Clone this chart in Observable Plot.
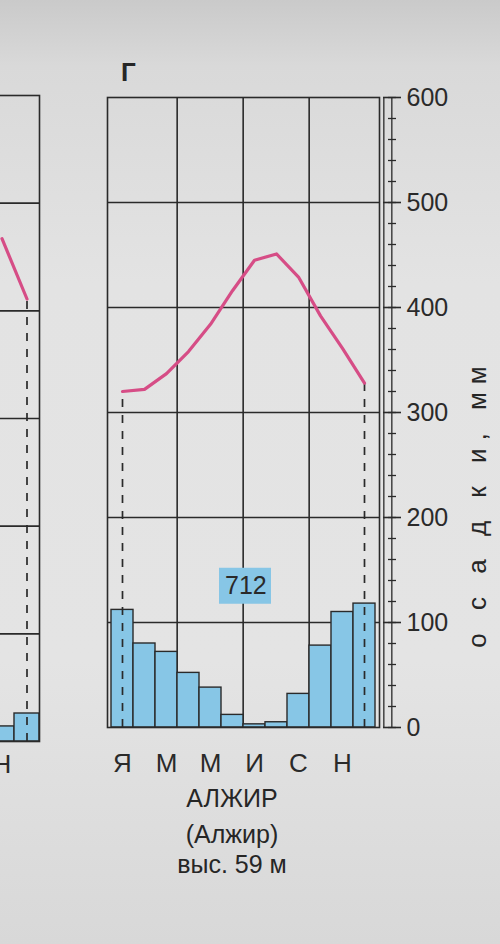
<!DOCTYPE html>
<html>
<head>
<meta charset="utf-8">
<script src="https://cdn.jsdelivr.net/npm/d3@7"></script>
<script src="https://cdn.jsdelivr.net/npm/@observablehq/plot@0.6"></script>
<style>
  body { margin: 0; }
  #wrap {
    position: relative; width: 500px; height: 944px; overflow: hidden;
    background: linear-gradient(180deg, #cacaca 0%, #d9d9d9 7%, #e3e3e3 30%, #e4e4e4 70%, #d8d8d8 100%);
    font-family: "Liberation Sans", Arial, sans-serif;
    color: #262626;
  }
  .plot { position: absolute; top: 0; }
  .lbl { position: absolute; white-space: nowrap; line-height: 1; }
</style>
</head>
<body>
<div id="wrap"></div>
<script>
// ---------- data (main chart: Algiers) ----------
const months = ["Jan","Feb","Mar","Apr","May","Jun","Jul","Aug","Sep","Oct","Nov","Dec"];
const monthLetters = ["Я","Ф","М","А","М","И","И","А","С","О","Н","Д"];
const labelledMonths = ["Jan","Mar","May","Jul","Sep","Nov"];
const precipitation = [112, 80, 72, 52, 38, 12, 3, 5, 32, 78, 110, 118]; // mm
const temperature = [12.0, 12.2, 13.7, 15.8, 18.4, 21.6, 24.5, 25.1, 22.9, 19.2, 16.1, 12.8]; // °C
const annualTotal = 712;
const yTicks = [0, 100, 200, 300, 400, 500, 600];
const gridLines = [100, 200, 300, 400, 500];
const quarterStarts = ["Apr", "Jul", "Oct"];
const panelLetter = "Г";
const cityName = "АЛЖИР";
const countryName = "(Алжир)";
const elevation = "выс. 59 м";
const axisTitle = "о с а д к и, мм";

// ---------- data (neighbouring chart, partly visible at the left edge) ----------
const leftMonths = ["Nov", "Dec"];
const leftPrecipitation = [14, 26];
const leftTemperature = [26.7, 21.1];
const leftLabelledMonths = ["Nov"];

// temperature is drawn on the precipitation grid: 0 °C at 200 mm, 10 °C per 100 mm
const tempToMm = t => 200 + 10 * t;

const ink = "#2a2a2a";
const blue = "#87c6e6";
const pink = "#d64d86";
const font = '"Liberation Sans", Arial, sans-serif';

const wrap = document.getElementById("wrap");

// ---------- main chart ----------
const W = 500, H = 944;
const mLeft = 107, mRight = 121, mTop = 97, mBottom = H - 727;
const bw = (W - mLeft - mRight) / 12;

const precipData = months.map((m, i) => ({month: m, value: precipitation[i]}));
const tempData = months.map((m, i) => ({month: m, value: tempToMm(temperature[i])}));
const tempEnds = [tempData[0], tempData[tempData.length - 1]];

const main = Plot.plot({
  width: W, height: H,
  marginLeft: mLeft, marginRight: mRight, marginTop: mTop, marginBottom: mBottom,
  style: {background: "transparent", fontFamily: font, color: ink, overflow: "visible"},
  x: {type: "band", domain: months, padding: 0},
  y: {domain: [0, 600]},
  marks: [
    Plot.ruleY(gridLines, {stroke: ink, strokeWidth: 1.6}),
    Plot.ruleX(quarterStarts, {x: d => d, dx: -bw / 2, stroke: ink, strokeWidth: 1.6}),
    Plot.barY(precipData, {x: "month", y: "value", fill: blue, stroke: ink, strokeWidth: 1.4}),
    Plot.ruleX(tempEnds, {x: "month", y1: 0, y2: "value", stroke: ink, strokeWidth: 1.7, strokeDasharray: "8,8"}),
    Plot.line(tempData, {x: "month", y: "value", stroke: pink, strokeWidth: 3.2, strokeLinejoin: "round"}),
    Plot.frame({stroke: ink, strokeWidth: 1.6}),
    // annual total badge
    Plot.ruleY([annualTotal], {y: () => 135, x1: () => "Jun", x2: () => "Jul", insetLeft: -2, insetRight: -6, stroke: blue, strokeWidth: 36}),
    Plot.text([annualTotal], {x: () => "Jun", y: () => 135, dx: bw / 2 + 2, text: d => String(d), fontSize: 25, fill: ink}),
    // month letters
    Plot.axisX(labelledMonths, {anchor: "bottom", tickSize: 0, tickPadding: 26, fontSize: 26, label: null,
      tickFormat: m => monthLetters[months.indexOf(m)], fill: ink}),
    // ladder scale on the right
    Plot.axisY(d3.range(0, 601, 20), {anchor: "right", tickSize: 8, dx: 8, fill: "none", label: null, stroke: ink, strokeWidth: 1.3}),
    Plot.ruleX(["Dec"], {x: d => d, y1: 0, y2: 600, dx: bw / 2 + 8, stroke: ink, strokeWidth: 1.3}),
    Plot.ruleX(["Dec"], {x: d => d, y1: 0, y2: 600, dx: bw / 2 + 16, stroke: ink, strokeWidth: 1.3}),
    Plot.axisY(yTicks, {anchor: "right", tickSize: 18, dx: 3, tickPadding: 6, fontSize: 25, label: null, stroke: ink, fill: ink, strokeWidth: 1.6})
  ]
});
main.classList.add("plot");
main.style.left = "0px";

// ---------- left neighbouring chart fragment ----------
const lBand = 25, lMarginLeft = 5, lMarginRight = 10;
const lW = lMarginLeft + 12 * lBand + lMarginRight;
const lRight = 39;
const leftPrecipData = leftMonths.map((m, i) => ({month: m, value: leftPrecipitation[i]}));
const leftTempData = leftMonths.map((m, i) => ({month: m, value: tempToMm(leftTemperature[i])}));
const leftPlot = Plot.plot({
  width: lW, height: H,
  marginLeft: lMarginLeft, marginRight: lMarginRight, marginTop: 95, marginBottom: H - 741,
  style: {background: "transparent", fontFamily: font, color: ink, overflow: "visible"},
  x: {type: "band", domain: months, padding: 0},
  y: {domain: [0, 600]},
  marks: [
    Plot.ruleY(gridLines, {stroke: ink, strokeWidth: 1.6}),
    Plot.barY(leftPrecipData, {x: "month", y: "value", fill: blue, stroke: ink, strokeWidth: 1.4}),
    Plot.ruleX(leftTempData.slice(-1), {x: "month", y1: 0, y2: "value", stroke: ink, strokeWidth: 1.7, strokeDasharray: "8,8"}),
    Plot.line(leftTempData, {x: "month", y: "value", stroke: pink, strokeWidth: 3.2}),
    Plot.frame({stroke: ink, strokeWidth: 1.6}),
    Plot.axisX(leftLabelledMonths, {anchor: "bottom", tickSize: 0, tickPadding: 13, fontSize: 26, label: null,
      tickFormat: m => monthLetters[months.indexOf(m)], fill: ink}),
    Plot.axisY([], {anchor: "left", label: null})
  ]
});
leftPlot.classList.add("plot");
leftPlot.style.left = (lRight - lMarginLeft - 12 * lBand) + "px";

wrap.appendChild(leftPlot);
wrap.appendChild(main);

// ---------- texts around the chart ----------
function addLabel(text, css) {
  const d = document.createElement("div");
  d.className = "lbl";
  d.textContent = text;
  Object.assign(d.style, css);
  wrap.appendChild(d);
  return d;
}
addLabel(panelLetter, {left: "121px", top: "59px", fontSize: "26px", fontWeight: "bold"});
addLabel(cityName, {left: "132px", width: "200px", textAlign: "center", top: "786px", fontSize: "25px"});
addLabel(countryName, {left: "132px", width: "200px", textAlign: "center", top: "822px", fontSize: "25px"});
addLabel(elevation, {left: "132px", width: "200px", textAlign: "center", top: "852px", fontSize: "25px"});
addLabel(axisTitle, {left: "477px", top: "503px", fontSize: "26px", letterSpacing: "8px",
  transform: "translate(-50%, -50%) rotate(-90deg)"});
</script>
</body>
</html>
